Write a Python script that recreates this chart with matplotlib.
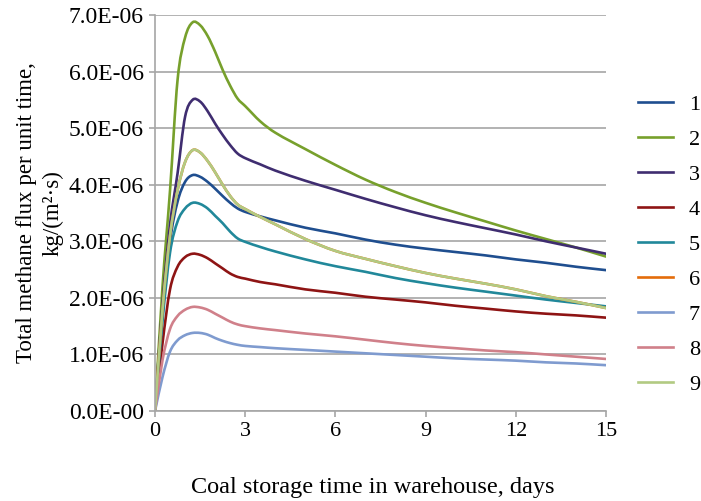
import matplotlib
matplotlib.use("Agg")
import matplotlib.pyplot as plt
from matplotlib.path import Path
from matplotlib.patches import PathPatch
from matplotlib.lines import Line2D

plt.rcParams['font.family'] = ['Liberation Serif', 'DejaVu Serif']

# Storage time, days
days = [0, 0.25, 0.5, 0.75, 1.0, 1.25, 1.5, 1.75, 2.0, 2.25, 2.5, 2.75, 3.0,
        3.5, 4, 5, 6, 7, 8, 9, 10, 11, 12, 13, 14, 15]

# Total methane flux, 1e-6 kg/(m2*s)
flux_1 = [0, 1.7, 3.0, 3.7, 4.05, 4.17, 4.14, 4.05, 3.93, 3.80, 3.68, 3.58, 3.52,
          3.44, 3.37, 3.24, 3.14, 3.03, 2.94, 2.87, 2.81, 2.75, 2.68, 2.62, 2.55, 2.49]
flux_2 = [0, 2.2, 3.9, 5.85, 6.6, 6.87, 6.82, 6.63, 6.35, 6.03, 5.75, 5.52, 5.39,
          5.12, 4.92, 4.63, 4.35, 4.09, 3.87, 3.68, 3.51, 3.35, 3.19, 3.04, 2.89, 2.73]
flux_3 = [0, 1.9, 3.3, 4.2, 5.2, 5.5, 5.47, 5.30, 5.08, 4.88, 4.70, 4.55, 4.47,
          4.36, 4.25, 4.07, 3.91, 3.75, 3.60, 3.46, 3.34, 3.23, 3.12, 3.00, 2.89, 2.78]
flux_4 = [0, 1.2, 2.15, 2.55, 2.72, 2.78, 2.76, 2.70, 2.61, 2.52, 2.43, 2.37, 2.34,
          2.28, 2.24, 2.15, 2.09, 2.02, 1.97, 1.92, 1.86, 1.81, 1.76, 1.72, 1.69, 1.65]
flux_5 = [0, 1.6, 2.8, 3.35, 3.58, 3.68, 3.66, 3.58, 3.45, 3.32, 3.17, 3.05, 2.99,
          2.90, 2.82, 2.68, 2.56, 2.46, 2.35, 2.26, 2.18, 2.11, 2.04, 1.97, 1.91, 1.85]
flux_9 = [0, 1.8, 3.1, 3.9, 4.4, 4.61, 4.57, 4.42, 4.22, 4.00, 3.80, 3.65, 3.57,
          3.43, 3.30, 3.04, 2.83, 2.69, 2.56, 2.44, 2.34, 2.25, 2.15, 2.03, 1.93, 1.82]
flux_6 = list(flux_9)
flux_7 = [0, 0.6, 1.05, 1.25, 1.34, 1.38, 1.38, 1.35, 1.29, 1.24, 1.20, 1.17, 1.15,
          1.13, 1.11, 1.08, 1.05, 1.02, 0.99, 0.96, 0.93, 0.91, 0.89, 0.86, 0.84, 0.81]
flux_8 = [0, 0.9, 1.45, 1.68, 1.79, 1.84, 1.83, 1.79, 1.72, 1.65, 1.58, 1.53, 1.50,
          1.46, 1.43, 1.37, 1.32, 1.26, 1.20, 1.15, 1.11, 1.07, 1.04, 1.00, 0.96, 0.92]

series_labels = ['1', '2', '3', '4', '5', '6', '7', '8', '9']
series = [flux_1, flux_2, flux_3, flux_4, flux_5, flux_6, flux_7, flux_8, flux_9]
colors = ['#1f4e8f', '#77a02c', '#3f2d70', '#8e1414', '#21889a',
          '#e46c0a', '#7f9bcf', '#d0808a', '#b2ca82']

x_ticks = [0, 3, 6, 9, 12, 15]
y_ticks = [0, 1e-6, 2e-6, 3e-6, 4e-6, 5e-6, 6e-6, 7e-6]
y_tick_labels = ['0.0E-00', '1.0E-06', '2.0E-06', '3.0E-06', '4.0E-06',
                 '5.0E-06', '6.0E-06', '7.0E-06']
scale = 1e-6


def smooth_path(xs, ys):
    """Smoothed line through the points as cubic Bezier segments
    (Hermite form with finite-difference tangents)."""
    n = len(xs)
    slopes = []
    for i in range(n):
        if i == 0:
            m = (ys[1] - ys[0]) / (xs[1] - xs[0])
        elif i == n - 1:
            m = (ys[-1] - ys[-2]) / (xs[-1] - xs[-2])
        else:
            m = (ys[i + 1] - ys[i - 1]) / (xs[i + 1] - xs[i - 1])
        slopes.append(m)
    verts = [(xs[0], ys[0])]
    codes = [Path.MOVETO]
    for i in range(n - 1):
        h = xs[i + 1] - xs[i]
        verts += [(xs[i] + h / 3, ys[i] + slopes[i] * h / 3),
                  (xs[i + 1] - h / 3, ys[i + 1] - slopes[i + 1] * h / 3),
                  (xs[i + 1], ys[i + 1])]
        codes += [Path.CURVE4] * 3
    return Path(verts, codes)


fig = plt.figure(figsize=(7.01, 5.01), dpi=100)
ax = fig.add_axes([155 / 701, 90 / 501, 451 / 701, 396 / 501])

line_w = 1.9
handles = []
for lab, vals, col in zip(series_labels, series, colors):
    path = smooth_path(days, [v * scale for v in vals])
    ax.add_patch(PathPatch(path, facecolor='none', edgecolor=col, lw=line_w,
                           joinstyle='round', capstyle='round',
                           transform=ax.transData, clip_on=True))
    handles.append(Line2D([], [], color=col, lw=line_w, label=lab))

ax.set_xlim(0, 15)
ax.set_ylim(0, 7e-6)
ax.set_xticks(x_ticks)
ax.set_xticklabels([str(t) for t in x_ticks], fontsize=16)
ax.set_yticks(y_ticks)
ax.set_yticklabels(y_tick_labels, fontsize=17)

ax.grid(axis='y', color='#a6a6a6', lw=1.2)
ax.set_axisbelow(True)
for side in ('top', 'right'):
    ax.spines[side].set_visible(False)
for side in ('left', 'bottom'):
    ax.spines[side].set_color('#a6a6a6')
    ax.spines[side].set_linewidth(1.2)
ax.tick_params(axis='both', color='#a6a6a6', length=4, width=1.2,
               direction='out', pad=4, labelcolor='black')

ax.set_xlabel('Coal storage time in warehouse, days', fontsize=17.5)
ax.xaxis.set_label_coords(0.483, -0.167)
fig.text(40 / 701, 0.575, 'Total methane flux per unit time,\nkg/(m\u00b2\u00b7s)',
         rotation=90, ha='center', va='center', multialignment='center',
         fontsize=16.5, linespacing=1.35)

ax.legend(handles=handles, loc='upper left', bbox_to_anchor=(0.897, 0.830),
          bbox_transform=fig.transFigure, frameon=False, fontsize=16,
          handlelength=1.6, handletextpad=0.7, labelspacing=0.65,
          borderaxespad=0)

fig.savefig('out.png', dpi=100)
